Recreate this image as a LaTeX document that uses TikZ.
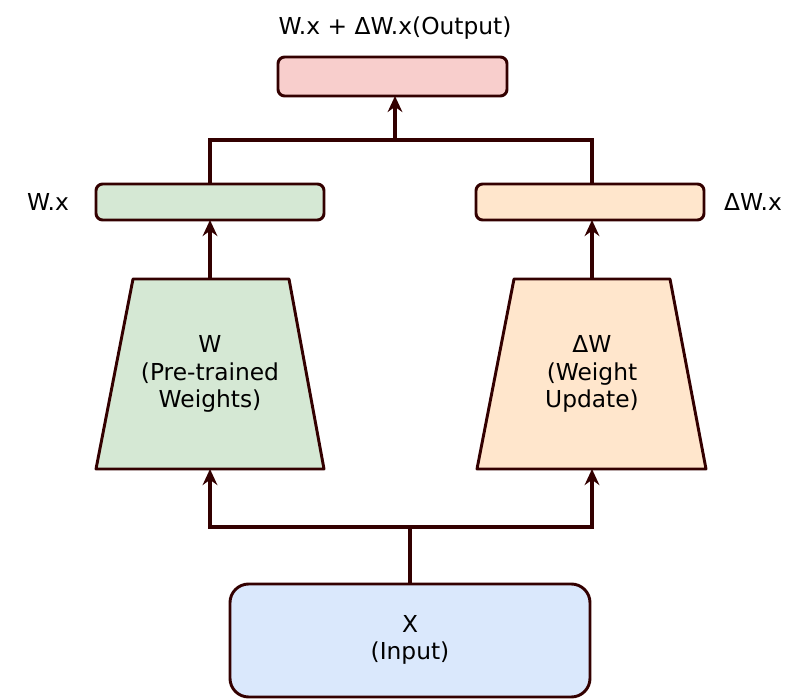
\documentclass[tikz,border=0pt]{standalone}
\usepackage{fontspec}
\setmainfont{DejaVu Sans}
\usetikzlibrary{arrows.meta}
\definecolor{ln}{HTML}{330000}
\definecolor{pinkf}{HTML}{F8CECC}
\definecolor{greenf}{HTML}{D5E8D4}
\definecolor{orangef}{HTML}{FFE6CC}
\definecolor{bluef}{HTML}{DAE8FC}
\begin{document}
\begin{tikzpicture}[x=0.75pt,y=-0.75pt,
  box/.style={draw=ln,line width=2.2pt,rounded corners=5pt},
  conn/.style={draw=ln,line width=2.6pt,-{Stealth[length=12pt,width=11pt]}},
  plain/.style={draw=ln,line width=2.6pt},
  txt/.style={font=\fontsize{17.5}{20.5}\selectfont,align=center,text=black}]
\useasboundingbox (0,0) rectangle (800,699);
\draw[box,fill=pinkf] (278,57) rectangle (507,96);
\coordinate (outb) at (395,96);
\node[txt] (outl) at (395,28) {W.x + ΔW.x(Output)};
\draw[box,fill=greenf] (96,184) rectangle (324,220);
\draw[box,fill=orangef] (476,184) rectangle (704,220);
\node[txt] (wxl) at (48,202) {W.x};
\node[txt] (dwxl) at (753,202) {ΔW.x};
\draw[draw=ln,line width=2.2pt,fill=greenf,line join=round] (133,279) -- (289,279) -- (324,469) -- (96,469) -- cycle;
\draw[draw=ln,line width=2.2pt,fill=orangef,line join=round] (514,279) -- (670,279) -- (706,469) -- (477,469) -- cycle;
\node[txt] (w) at (210,374) {W\\(Pre-trained\\Weights)};
\node[txt] (dw) at (592,374) {ΔW\\(Weight\\Update)};
\draw[box,rounded corners=14pt,fill=bluef] (230,584) rectangle (590,697);
\node[txt] (x) at (410,640) {X\\(Input)};
% connectors
\coordinate (xt) at (410,584);
\coordinate (split) at (410,527);
\coordinate (lb) at (210,469);
\coordinate (rb) at (592,469);
\draw[plain] (xt) -- (split);
\draw[conn] (split) -| (lb);
\draw[conn] (split) -| (rb);
\coordinate (lt) at (210,279);
\coordinate (rt) at (592,279);
\coordinate (wb) at (210,220);
\coordinate (dwb) at (592,220);
\draw[conn] (lt) -- (wb);
\draw[conn] (rt) -- (dwb);
\coordinate (wt) at (210,184);
\coordinate (dwt) at (592,184);
\coordinate (merge) at (395,140);
\draw[plain,line join=miter] (wt) |- (merge) -| (dwt);
\draw[conn] (merge) -- (outb);
\end{tikzpicture}
\end{document}
